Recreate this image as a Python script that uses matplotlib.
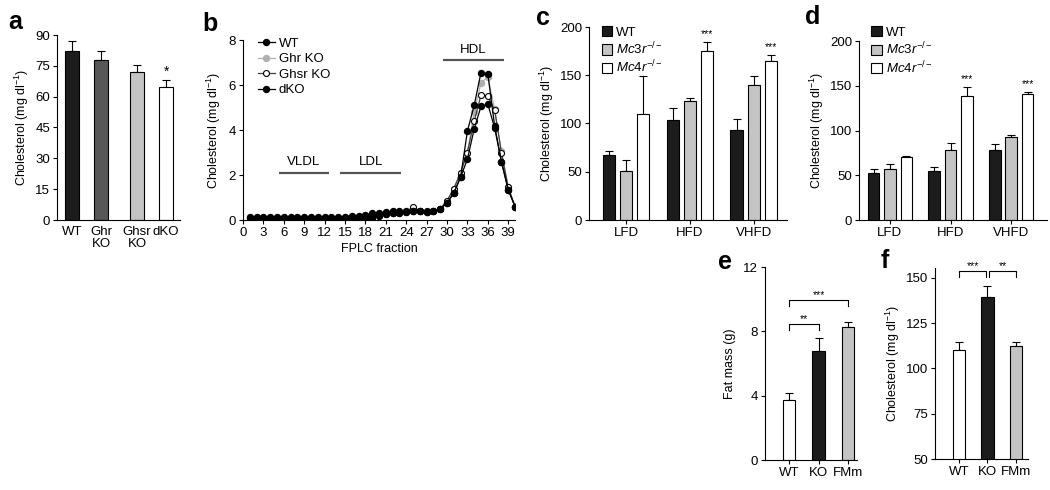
import numpy as np
import matplotlib
matplotlib.use("Agg")
import matplotlib.pyplot as plt
from matplotlib.patches import Patch

plt.rcParams['font.family'] = ['Liberation Sans', 'DejaVu Sans']
plt.rcParams['font.size'] = 9.5
plt.rcParams['mathtext.fontset'] = 'custom'
plt.rcParams['mathtext.rm'] = 'Liberation Sans'
plt.rcParams['mathtext.it'] = 'Liberation Sans:italic'
plt.rcParams['axes.linewidth'] = 0.8
plt.rcParams['xtick.major.width'] = 0.8
plt.rcParams['ytick.major.width'] = 0.8
plt.rcParams['xtick.major.size'] = 3
plt.rcParams['ytick.major.size'] = 3

# --- data ---
# a
a_labels = ["WT", "Ghr\nKO", "Ghsr\nKO", "dKO"]
a_means = [82, 78, 72, 64.5]
a_err = [5, 4, 3.5, 3.5]

# b: FPLC profiles
fractions = list(range(1, 41))
b_wt = [0.15, 0.12, 0.12, 0.13, 0.14, 0.15, 0.15, 0.14, 0.13, 0.13, 0.13, 0.13, 0.14, 0.15, 0.15,
        0.18, 0.2, 0.22, 0.3, 0.33, 0.35, 0.38, 0.4, 0.38, 0.38, 0.38, 0.37, 0.4, 0.5, 0.75,
        1.2, 1.9, 3.95, 5.1, 6.55, 6.5, 4.2, 2.6, 1.35, 0.6]
b_ghr = [0.08, 0.08, 0.08, 0.1, 0.1, 0.1, 0.08, 0.08, 0.08, 0.08, 0.08, 0.08, 0.08, 0.1, 0.12,
         0.12, 0.15, 0.18, 0.22, 0.25, 0.28, 0.3, 0.35, 0.35, 0.38, 0.38, 0.38, 0.4, 0.5, 0.85,
         1.4, 2.1, 3.0, 4.8, 6.1, 6.35, 4.95, 3.05, 1.45, 0.6]
b_ghsr = [0.05, 0.05, 0.05, 0.05, 0.05, 0.05, 0.05, 0.05, 0.05, 0.05, 0.05, 0.05, 0.05, 0.05, 0.05,
          0.05, 0.08, 0.12, 0.18, 0.22, 0.25, 0.3, 0.33, 0.35, 0.6, 0.4, 0.38, 0.38, 0.5, 0.85,
          1.4, 2.1, 3.0, 4.4, 5.55, 5.5, 4.9, 3.0, 1.45, 0.6]
b_dko = [0.1, 0.1, 0.1, 0.1, 0.1, 0.1, 0.1, 0.1, 0.1, 0.1, 0.1, 0.1, 0.1, 0.08, 0.05,
         0.02, 0.02, 0.05, 0.1, 0.2, 0.25, 0.3, 0.32, 0.35, 0.38, 0.38, 0.37, 0.4, 0.5, 0.75,
         1.2, 1.9, 2.7, 4.05, 5.05, 5.15, 4.1, 2.6, 1.35, 0.6]
b_names = ["WT", "Ghr KO", "Ghsr KO", "dKO"]

# c, d
diets = ["LFD", "HFD", "VHFD"]
genotypes = ["WT", r"$\mathit{Mc3r}^{-/-}$", r"$\mathit{Mc4r}^{-/-}$"]
c_means = [[67, 104, 93], [51, 123, 140], [110, 175, 165]]
c_err = [[5, 12, 12], [11, 3, 9], [39, 9, 6]]
d_means = [[52, 55, 78], [57, 78, 93], [70, 139, 141]]
d_err = [[5, 4, 7], [6, 8, 2], [2, 10, 2]]

# e, f
ef_labels = ["WT", "KO", "FMm"]
e_means = [3.7, 6.8, 8.3]
e_err = [0.45, 0.8, 0.3]
f_means = [110.3, 139.7, 112.2]
f_err = [4.3, 6.0, 2.4]

black = "#1c1c1c"
dgray = "#575757"
lgray = "#c4c4c4"

fig = plt.figure(figsize=(10.5, 4.9), dpi=100)

def px_axes(l, r, top, bottom):
    return fig.add_axes([l / 1050, 1 - bottom / 490, (r - l) / 1050, (bottom - top) / 490])

def style(ax):
    ax.spines['top'].set_visible(False)
    ax.spines['right'].set_visible(False)
    ax.tick_params(labelsize=9.5, pad=2)

def bars(ax, x, means, errs, colors, width):
    ax.bar(x, means, width=width, color=colors, edgecolor="black", linewidth=0.8, zorder=2)
    ax.errorbar(x, means, yerr=[[0] * len(errs), errs], fmt="none", ecolor="black",
                elinewidth=0.8, capsize=2.6, capthick=0.8, zorder=1)

chol = "Cholesterol (mg dl$^{-1}$)"
LAB = 9

# panel a
ax = px_axes(57, 180, 35, 220)
style(ax)
xa = [0, 1, 2.24, 3.24]
bars(ax, xa, a_means, a_err, [black, dgray, lgray, "white"], 0.47)
ax.set_xlim(-0.52, 3.72)
ax.set_ylim(0, 90)
ax.set_yticks(range(0, 91, 15))
ax.set_xticks(xa)
ax.set_xticklabels(a_labels, linespacing=1.1)
ax.tick_params(axis='x', length=0, pad=4)
ax.set_ylabel(chol, labelpad=3, fontsize=LAB)
ax.text(xa[3], a_means[3] + a_err[3] + 0.5, "*", ha="center", va="bottom", fontsize=10)

# panel b
ax = px_axes(243, 515, 40, 220)
style(ax)
ax.plot(fractions, b_ghr, "-o", color="#b0b0b0", mfc="#b0b0b0", mec="#b0b0b0", ms=4.3, lw=0.9, label=b_names[1])
ax.plot(fractions, b_ghsr, "-o", color="#404040", mfc="white", mec="black", ms=4.3, lw=0.9, mew=0.8, label=b_names[2])
ax.plot(fractions, b_dko, "-o", color="black", mfc="black", mec="black", ms=4.3, lw=0.9, label=b_names[3])
ax.plot(fractions, b_wt, "-o", color="black", mfc="black", mec="black", ms=4.3, lw=0.9, label=b_names[0])
h, l = ax.get_legend_handles_labels()
order = [3, 0, 1, 2]
ax.legend([h[i] for i in order], [l[i] for i in order], loc="upper left", bbox_to_anchor=(0.03, 1.05),
          frameon=False, fontsize=9.5, handlelength=1.3, handletextpad=0.3, labelspacing=0.25, borderpad=0)
ax.set_xlim(0, 40)
ax.set_ylim(0, 8)
ax.set_xticks(range(0, 40, 3))
ax.set_yticks(range(0, 9, 2))
ax.set_xlabel("FPLC fraction", labelpad=3, fontsize=LAB)
ax.set_ylabel(chol, labelpad=4, fontsize=LAB)
for x0, x1, y, name in [(5.3, 12.6, 2.1, "VLDL"), (14.3, 23.3, 2.1, "LDL"), (29.4, 38.4, 7.1, "HDL")]:
    ax.plot([x0, x1], [y, y], color="#555555", lw=1.6, solid_capstyle="butt")
    ax.text((x0 + x1) / 2, y + 0.2, name, ha="center", va="bottom", fontsize=9.5)

# panels c and d
def grouped(ax, means, errs, ymax, step):
    style(ax)
    cols = [black, lgray, "white"]
    off = 0.27
    for i in range(3):
        xs = np.arange(3) + (i - 1) * off
        bars(ax, xs, means[i], errs[i], cols[i], 0.19)
    ax.set_xticks(np.arange(3))
    ax.set_xticklabels(diets)
    ax.set_ylim(0, ymax)
    ax.set_yticks(range(0, ymax + 1, step))
    ax.set_ylabel(chol, labelpad=3, fontsize=LAB)
    for g in [1, 2]:
        ax.text(g + off, means[2][g] + errs[2][g] + 3, "***", ha="center", va="bottom", fontsize=7.5)
    hs = [Patch(facecolor=c, edgecolor="black", linewidth=0.8) for c in cols]
    return hs

ax = px_axes(589, 787, 27, 220)
hs = grouped(ax, c_means, c_err, 200, 50)
ax.set_xlim(-0.58, 2.52)
ax.legend(hs, genotypes, loc="upper left", bbox_to_anchor=(0.03, 1.04), frameon=False, fontsize=9.5,
          handlelength=0.8, handleheight=0.8, handletextpad=0.3, labelspacing=0.15, borderpad=0)

ax = px_axes(859, 1047, 41, 220)
hs = grouped(ax, d_means, d_err, 200, 50)
ax.set_xlim(-0.51, 2.59)
ax.legend(hs, genotypes, loc="upper left", bbox_to_anchor=(0.03, 1.12), frameon=False, fontsize=9.5,
          handlelength=0.8, handleheight=0.8, handletextpad=0.3, labelspacing=0.15, borderpad=0)

# panel e
def bracket(ax, x0, x1, y, drop, text):
    ax.plot([x0, x0, x1, x1], [y - drop, y, y, y - drop], color="black", lw=0.8)
    ax.text((x0 + x1) / 2, y, text, ha="center", va="bottom", fontsize=7.5)

ax = px_axes(765, 857, 267, 460)
style(ax)
bars(ax, [0, 1, 2], e_means, e_err, ["white", black, lgray], 0.43)
ax.set_xlim(-0.81, 2.3)
ax.set_ylim(0, 12)
ax.set_yticks([0, 4, 8, 12])
ax.set_xticks([0, 1, 2])
ax.set_xticklabels(ef_labels)
ax.set_ylabel("Fat mass (g)", labelpad=5, fontsize=LAB)
bracket(ax, 0, 1, 8.45, 0.35, "**")
bracket(ax, 0, 2, 9.95, 0.35, "***")

# panel f
ax = px_axes(935, 1028, 268, 459)
style(ax)
bars(ax, [0, 1, 2], f_means, f_err, ["white", black, lgray], 0.43)
ax.set_xlim(-0.84, 2.42)
ax.set_ylim(50, 155.5)
ax.set_yticks([50, 75, 100, 125, 150])
ax.set_xticks([0, 1, 2])
ax.set_xticklabels(ef_labels)
ax.set_ylabel(chol, labelpad=3, fontsize=LAB)
bracket(ax, 0, 0.95, 153.7, 3.2, "***")
bracket(ax, 1.05, 2, 153.7, 3.2, "**")

# panel letters
for x, y, s in [(15, 22, "a"), (210, 24, "b"), (543, 18, "c"), (813, 17, "d"), (725, 262, "e"), (885, 261, "f")]:
    fig.text(x / 1050, 1 - y / 490, s, fontsize=18, fontweight="bold", ha="center", va="center")

fig.savefig("out.png", dpi=100)
